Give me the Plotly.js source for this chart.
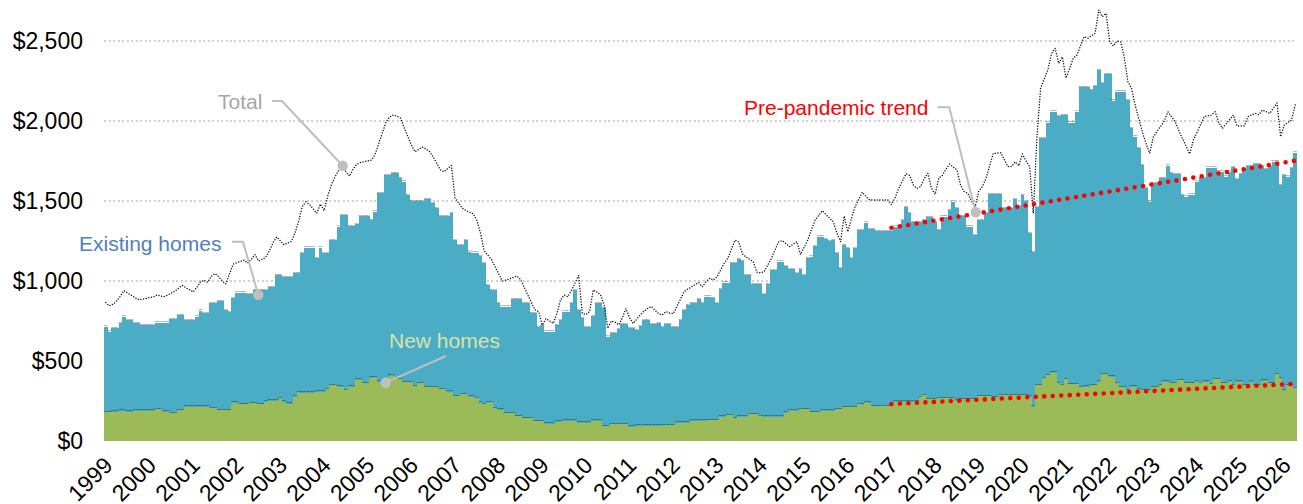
<!DOCTYPE html>
<html><head><meta charset="utf-8">
<script src="https://cdn.plot.ly/plotly-3.0.1.min.js"></script>
<style>
html,body{margin:0;padding:0;background:#fff;}
#chart{width:1303px;height:504px;}
.scatterlayer .js-line{stroke-linecap:round;}
</style></head><body><div id="chart"></div>
<script>
const years = ['1999','2000','2001','2002','2003','2004','2005','2006','2007','2008','2009','2010','2011','2012','2013','2014','2015','2016','2017','2018','2019','2020','2021','2022','2023','2024','2025','2026'];

const existingHomes = [
715,683,704,704,735,777,756,756,739,739,
725,725,725,725,740,740,740,740,762,762,
787,787,756,756,756,777,815,798,798,860,
860,875,875,818,807,892,927,927,927,918,
918,943,943,943,943,964,964,1037,1037,1023,
1023,1023,1048,1048,1173,1208,1208,1208,1142,1208,
1173,1173,1256,1256,1340,1412,1412,1344,1344,1356,
1406,1406,1406,1381,1433,1548,1548,1662,1662,1675,
1675,1644,1621,1537,1500,1500,1500,1500,1510,1510,
1485,1454,1406,1406,1406,1425,1256,1225,1225,1256,
1183,1177,1177,1156,1110,975,944,944,860,840,
840,840,885,885,885,860,860,798,798,714,
725,683,683,683,725,756,808,808,860,944,
819,767,714,714,781,860,860,829,652,673,
673,698,731,731,704,704,694,719,756,756,
731,731,735,714,731,731,714,714,756,819,
850,860,860,885,860,902,902,892,863,948,
990,990,1110,1110,1135,1123,1037,1037,979,979,
979,917,979,1069,1069,1121,1121,1094,1073,1073,
1048,1073,1037,1142,1152,1219,1277,1277,1262,1250,
1256,1173,1080,1225,1206,1142,1206,1319,1319,1365,
1323,1323,1312,1312,1312,1312,1312,1340,1340,1381,
1460,1423,1370,1370,1370,1381,1398,1398,1370,1319,
1402,1402,1444,1496,1454,1406,1406,1340,1340,1287,
1381,1381,1423,1544,1544,1544,1544,1454,1454,1454,
1510,1469,1537,1500,1298,1180,1464,1892,1892,1990,
2058,2058,2031,2037,2037,1990,1990,2058,2214,2214,
2214,2194,2220,2319,2235,2294,2294,2127,2183,2183,
2183,2131,1954,1902,1829,1725,1579,1496,1614,1614,
1642,1642,1721,1673,1667,1667,1537,1527,1540,1540,
1621,1642,1642,1708,1708,1708,1683,1683,1652,1683,
1710,1637,1667,1698,1717,1717,1731,1731,1717,1698,
1717,1746,1746,1600,1662,1652,1706,1802];

const newHomes = [
179,179,183,183,190,190,183,183,190,190,
190,190,190,190,200,200,183,183,172,172,
195,195,215,215,215,215,215,215,215,204,
204,195,195,195,195,240,240,231,231,231,
237,237,231,231,246,252,252,252,267,246,
233,233,277,302,302,302,302,302,308,308,
308,323,350,350,340,340,319,340,340,383,
383,360,360,396,396,371,371,371,409,409,
388,388,368,368,368,345,360,360,338,338,
338,338,323,323,308,308,281,281,294,294,
277,277,267,240,231,240,243,205,196,196,
175,175,175,156,156,142,142,142,124,124,
124,108,108,108,121,121,127,127,127,127,
115,115,115,115,127,127,127,94,94,106,
106,106,106,106,90,90,96,96,96,96,
96,96,96,96,100,100,100,115,115,115,
115,127,127,127,127,127,131,131,131,152,
152,163,163,142,152,152,152,167,167,167,
156,152,152,152,152,152,152,177,190,190,
190,198,198,198,179,179,179,190,190,190,
190,198,198,210,210,210,210,231,228,240,
240,219,219,219,219,219,219,246,246,246,
246,246,246,246,273,288,260,260,260,267,
267,267,267,267,252,260,260,260,260,260,
281,281,281,281,274,274,288,288,288,288,
288,288,288,288,277,215,350,350,392,412,
427,427,360,350,385,356,356,356,335,340,
340,350,350,371,419,419,402,402,360,335,
335,319,340,340,323,319,319,319,335,335,
350,371,371,360,360,381,381,360,360,360,
371,360,371,371,356,385,385,360,360,371,
350,371,371,350,350,371,350,350,377,377,
360,360,419,392,319,350,350,329];

const totalPayment = [
865,845,855,875,905,940,925,910,895,883,
886,890,892,900,912,908,902,912,922,935,
955,972,958,945,932,960,995,1005,992,1030,
1046,1028,1000,982,1050,1105,1115,1122,1130,1112,
1135,1165,1125,1135,1150,1190,1240,1275,1250,1226,
1238,1246,1300,1370,1465,1495,1478,1450,1423,1480,
1440,1530,1600,1650,1690,1712,1680,1655,1700,1730,
1740,1745,1750,1756,1790,1860,1920,1990,2025,2037,
2030,2018,1960,1905,1850,1808,1825,1838,1825,1810,
1775,1735,1695,1683,1705,1722,1520,1490,1455,1440,
1430,1420,1380,1300,1190,1160,1135,1090,1040,1000,
1005,1015,1025,1031,1010,960,910,860,819,808,
725,765,750,735,795,880,912,902,940,990,
1035,798,790,810,944,930,915,850,705,750,
742,726,770,828,770,735,765,790,812,829,
840,815,795,788,808,800,795,840,890,932,
950,965,980,990,964,995,1017,1006,1025,1070,
1110,1142,1200,1256,1245,1170,1150,1135,1121,1055,
1050,1058,1100,1142,1195,1246,1252,1235,1215,1230,
1246,1165,1210,1256,1320,1380,1410,1439,1415,1392,
1370,1300,1246,1406,1308,1390,1464,1510,1555,1530,
1506,1506,1506,1508,1510,1506,1478,1520,1579,1630,
1670,1660,1600,1579,1590,1640,1673,1580,1542,1642,
1660,1700,1731,1712,1694,1600,1558,1548,1500,1464,
1560,1590,1642,1720,1798,1800,1802,1760,1715,1715,
1745,1720,1794,1750,1715,1423,1900,2204,2260,2319,
2420,2454,2360,2400,2267,2330,2392,2412,2470,2527,
2517,2530,2548,2694,2652,2673,2496,2469,2500,2496,
2400,2246,2204,2100,2006,1930,1860,1798,1900,1933,
1960,2000,2058,2030,1996,1940,1892,1840,1794,1880,
1930,1980,2027,2032,2037,2058,1990,1954,1980,2010,
2037,1969,1970,1969,2027,2040,2048,2040,2069,2058,
2048,2080,2112,1902,1975,1990,2006,2100];

const trendMonths = ['2017-01', '2026-04'];
const existingTrend = [1333, 1752];
const newTrend = [231, 357];

// month labels (categories)
const months = existingHomes.map((_, i) => (1999 + Math.floor(i / 12)) + '-' + String(i % 12 + 1).padStart(2, '0'));
const xi = months.map((_, i) => i);
const trendX = trendMonths.map(m => months.indexOf(m));
const tickVals = years.map(y => months.indexOf(y + '-01'));

// geometry
const W = 1303, H = 504, ML = 104, MR = 6, MT = 1, MB = 63;
const fx = x => (x - ML) / (W - ML - MR);
const fy = y => (H - MB - y) / (H - MT - MB);
const FONT = 'Liberation Sans, Arial, sans-serif';
const GREY = '#BFBFBF';

function path(pts) {
  return pts.map((p, i) => (i ? 'L' : 'M') + fx(p[0]).toFixed(5) + ',' + fy(p[1]).toFixed(5)).join(' ');
}
function dot(cx, cy, r) {
  return {type: 'circle', xref: 'paper', yref: 'paper', x0: fx(cx - r), x1: fx(cx + r), y0: fy(cy + r), y1: fy(cy - r),
          fillcolor: GREY, line: {width: 0}, layer: 'above'};
}
function conn(pts) {
  return {type: 'path', xref: 'paper', yref: 'paper', path: path(pts), line: {color: GREY, width: 2}, layer: 'above'};
}

const traces = [
  {type: 'bar', x: xi, y: existingHomes, text: months, marker: {color: '#4BACC6', line: {width: 0}}, hoverinfo: 'skip', width: 1.02},
  {type: 'bar', x: xi, y: newHomes, text: months, marker: {color: '#9BBB59', line: {width: 0}}, hoverinfo: 'skip', width: 1.02},
  {type: 'scatter', mode: 'lines', x: xi, y: totalPayment, line: {color: '#111', width: 1.5, dash: '0px,2.7px'}, hoverinfo: 'skip'},
  {type: 'scatter', mode: 'lines', x: trendX, y: existingTrend, line: {color: '#FF0000', width: 4.6, dash: '0px,8.5px'}, hoverinfo: 'skip'},
  {type: 'scatter', mode: 'lines', x: trendX, y: newTrend, line: {color: '#FF0000', width: 4.6, dash: '0px,8.5px'}, hoverinfo: 'skip'}
];

const layout = {
  width: W, height: H,
  margin: {l: ML, r: MR, t: MT, b: MB, pad: 0},
  paper_bgcolor: '#fff', plot_bgcolor: '#fff',
  showlegend: false, hovermode: false,
  barmode: 'overlay', bargap: 0,
  font: {family: FONT, color: '#000'},
  xaxis: {
    range: [-0.5, 327.5], tickvals: tickVals, ticktext: years, tickangle: -45,
    showgrid: false, zeroline: false, showline: false, ticks: '',
    tickfont: {size: 23, family: FONT, color: '#000'}, ticklabelstandoff: 5, fixedrange: true
  },
  yaxis: {
    range: [0, 2750], tick0: 0, dtick: 500, tickprefix: '$', tickformat: ',d',
    showgrid: true, gridcolor: '#d0d0d0', griddash: '2px,2.5px', gridwidth: 1.6,
    zeroline: false, showline: false, ticks: '',
    tickfont: {size: 23, family: FONT, color: '#000'}, ticklabelstandoff: 20, fixedrange: true
  },
  shapes: [
    conn([[272, 101], [282, 101], [342.7, 165.7]]),
    conn([[232, 241.7], [243, 241.7], [258.3, 295]]),
    conn([[446, 356], [385.7, 382.7]]),
    conn([[937.3, 107.3], [949.3, 107.3], [975.7, 212.3]]),
    dot(342.7, 165.7, 5.2),
    dot(258.3, 295, 5.2),
    dot(385.7, 382.7, 5.2),
    dot(975.7, 212.3, 5.2)
  ],
  annotations: [
    {text: 'Total', xref: 'paper', yref: 'paper', x: fx(264), y: fy(101), xanchor: 'right', yanchor: 'middle', showarrow: false,
     font: {size: 21, color: '#A6A6A6', family: FONT}},
    {text: 'Existing homes', xref: 'paper', yref: 'paper', x: fx(223), y: fy(243), xanchor: 'right', yanchor: 'middle', showarrow: false,
     font: {size: 21, color: '#4F81BD', family: FONT}},
    {text: 'New homes', xref: 'paper', yref: 'paper', x: fx(444), y: fy(340), xanchor: 'center', yanchor: 'middle', showarrow: false,
     font: {size: 21, color: '#D9E3A8', family: FONT}},
    {text: 'Pre-pandemic trend', xref: 'paper', yref: 'paper', x: fx(930), y: fy(107), xanchor: 'right', yanchor: 'middle', showarrow: false,
     font: {size: 21, color: '#FF0000', family: FONT}}
  ]
};

Plotly.newPlot('chart', traces, layout, {displayModeBar: false, staticPlot: true});
</script></body></html>
